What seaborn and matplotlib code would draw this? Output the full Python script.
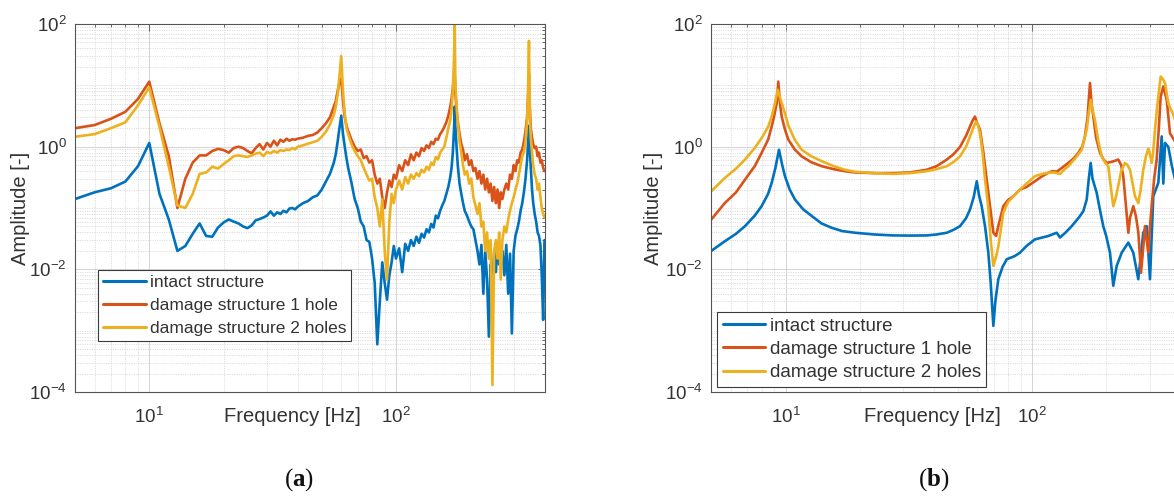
import numpy as np
import pandas as pd
import seaborn as sns
import matplotlib
matplotlib.use("Agg")
import matplotlib.pyplot as plt
from matplotlib.lines import Line2D
from matplotlib.ticker import FixedLocator, LogLocator, FuncFormatter, NullFormatter

# ---------------------------------------------------------------- data
SERIES = ["intact structure", "damage structure 1 hole", "damage structure 2 holes"]
COLORS = ["#0072BD", "#D95319", "#EDB120"]

# (a) measured FRF, 1 Hz resolution at the low end
freq_a = [5, 6, 7, 8, 9, 10, 11, 12, 13, 14,
          15, 16, 17, 18, 19, 20, 21, 22, 23, 24,
          25, 26, 27, 28, 29, 30, 31, 32, 33, 34,
          35, 36, 37, 38, 39, 40, 42, 44, 46, 48,
          50, 52, 54, 56, 57, 58, 59, 60, 61, 62,
          63, 64, 66, 68, 70, 72, 74, 76, 78, 80,
          82, 84, 86, 88, 90, 92, 94, 96, 98, 100,
          103, 106, 109, 112, 115, 118, 121, 124, 127, 130,
          133, 136, 139, 142, 145, 148, 151, 154, 157, 160,
          163, 166, 168, 170, 172, 173, 174, 176, 178, 181,
          184, 187, 190, 194, 198, 202, 206, 210, 214, 218,
          222, 226, 230, 234, 238, 242, 246, 250, 254, 258,
          262, 266, 270, 275, 280, 285, 290, 295, 300, 305,
          310, 315, 320, 325, 330, 335, 340, 343, 346, 349,
          352, 356, 360, 365, 370, 375, 380, 385, 390, 395,
          400]

intact_a = [0.14, 0.18, 0.21, 0.27, 0.48, 1.15, 0.17, 0.065, 0.02, 0.024,
            0.038, 0.056, 0.035, 0.034, 0.048, 0.058, 0.065, 0.06, 0.056, 0.05,
            0.047, 0.052, 0.063, 0.066, 0.07, 0.075, 0.088, 0.075, 0.085, 0.08,
            0.09, 0.085, 0.098, 0.1, 0.095, 0.105, 0.12, 0.13, 0.15, 0.16,
            0.2, 0.27, 0.36, 0.55, 0.75, 1.2, 2.0, 3.2, 1.6, 1.0,
            0.65, 0.45, 0.26, 0.14, 0.1, 0.06, 0.05, 0.03, 0.028, 0.015,
            0.006, 0.0006, 0.003, 0.013, 0.006, 0.0032, 0.008, 0.013, 0.024, 0.015,
            0.022, 0.009, 0.026, 0.02, 0.03, 0.024, 0.034, 0.027, 0.038, 0.033,
            0.045, 0.04, 0.055, 0.048, 0.075, 0.068, 0.09, 0.11, 0.13, 0.17,
            0.22, 0.32, 0.45, 0.8, 2.0, 4.5, 2.2, 1.0, 0.5, 0.25,
            0.17, 0.12, 0.09, 0.075, 0.06, 0.05, 0.045, 0.03, 0.02, 0.012,
            0.025, 0.004, 0.02, 0.007, 0.0008, 0.012, 0.005, 0.02, 0.009, 0.025,
            0.012, 0.015, 0.02, 0.008, 0.025, 0.004, 0.018, 0.0009, 0.02, 0.035,
            0.045, 0.06, 0.09, 0.12, 0.18, 0.3, 0.6, 1.1, 2.2, 0.9,
            0.45, 0.2, 0.12, 0.08, 0.06, 0.04, 0.035, 0.025, 0.008, 0.0015,
            0.03]

hole1_a = [2.0, 2.25, 2.85, 3.7, 6.0, 11.5, 2.4, 0.7, 0.1, 0.3,
           0.55, 0.72, 0.72, 0.85, 0.92, 0.88, 0.8, 0.95, 1.0, 0.95,
           0.85, 0.78, 0.95, 1.1, 0.9, 1.15, 1.0, 1.25, 1.05, 1.3,
           1.2, 1.35, 1.25, 1.32, 1.3, 1.35, 1.4, 1.5, 1.55, 1.7,
           2.0, 2.4, 3.0, 4.5, 5.5, 8.0, 11.0, 13.0, 5.5, 3.0,
           2.2, 1.8, 1.3, 1.0, 0.85, 0.9, 0.65, 0.7, 0.55, 0.6,
           0.35, 0.25, 0.3, 0.15, 0.1, 0.18, 0.28, 0.22, 0.35, 0.3,
           0.5, 0.4, 0.6, 0.5, 0.75, 0.6, 0.8, 0.7, 0.95, 0.85,
           1.05, 0.95, 1.2, 1.1, 1.35, 1.3, 1.6, 1.8, 2.1, 2.5,
           3.2, 4.5, 6.0, 9.0, 14.0, 16.0, 8.0, 4.0, 2.6, 1.6,
           1.1, 0.9, 0.6, 0.75, 0.5, 0.6, 0.4, 0.45, 0.3, 0.4,
           0.25, 0.35, 0.2, 0.3, 0.18, 0.25, 0.13, 0.22, 0.12, 0.2,
           0.1, 0.18, 0.14, 0.2, 0.25, 0.2, 0.35, 0.3, 0.5, 0.4,
           0.6, 0.55, 0.8, 0.9, 1.2, 1.8, 3.0, 6.0, 15.0, 4.0,
           2.0, 1.4, 1.1, 0.95, 1.0, 0.7, 0.8, 0.55, 0.6, 0.45,
           0.4]

holes2_a = [1.45, 1.6, 2.0, 2.5, 4.7, 9.3, 2.1, 0.47, 0.11, 0.1,
            0.17, 0.36, 0.38, 0.47, 0.44, 0.52, 0.6, 0.7, 0.72, 0.7,
            0.68, 0.72, 0.77, 0.8, 0.7, 0.82, 0.78, 0.85, 0.8, 0.88,
            0.85, 0.9, 0.88, 0.95, 0.9, 1.0, 1.05, 1.12, 1.18, 1.25,
            1.45, 1.75, 2.3, 3.3, 4.5, 7.0, 14.0, 30.0, 8.0, 3.5,
            2.0, 1.6, 1.1, 0.85, 0.7, 0.6, 0.45, 0.35, 0.28, 0.3,
            0.15, 0.1, 0.05, 0.14, 0.02, 0.0068, 0.06, 0.17, 0.12, 0.2,
            0.28, 0.2, 0.32, 0.25, 0.35, 0.3, 0.37, 0.33, 0.42, 0.38,
            0.47, 0.42, 0.55, 0.5, 0.68, 0.62, 0.8, 0.9, 1.0, 1.4,
            2.0, 2.7, 4.0, 8.0, 30.0, 100.0, 12.0, 5.0, 2.5, 1.2,
            0.8, 0.5, 0.35, 0.4, 0.25, 0.3, 0.15, 0.11, 0.08, 0.12,
            0.05, 0.06, 0.02, 0.04, 0.015, 0.03, 0.00013, 0.02, 0.03, 0.015,
            0.04, 0.0068, 0.03, 0.05, 0.04, 0.065, 0.09, 0.12, 0.15, 0.2,
            0.25, 0.35, 0.5, 0.7, 0.8, 1.2, 2.7, 8.0, 53.0, 3.0,
            1.4, 0.8, 0.5, 0.35, 0.3, 0.2, 0.25, 0.15, 0.1, 0.08,
            0.07]

# (b) model FRF
freq_b_intact = [5, 5.68, 6.3, 6.85, 7.5, 8.0, 8.5, 8.79, 9.1, 9.41,
                 9.7, 9.95, 10.4, 10.93, 11.8, 12.78, 14.0, 15.39, 17.0, 19.14,
                 23.0, 27.37, 32.0, 37.4, 41.0, 45.1, 48.0, 51.05, 54.0, 56.05,
                 58.0, 59.7, 61.0, 62.5, 64.5, 66.5, 68.0, 69.7, 71.0, 73.0,
                 76.0, 79.0, 85.0, 89.4, 95.0, 102.8, 116.5, 126.0, 129.9, 137.0,
                 144.9, 155.0, 161.5, 166.7, 170.0, 173.0, 176.0, 183.0, 188.0, 194.6,
                 200.0, 207.2, 213.7, 220.6, 231.2, 245.9, 257.6, 269.9, 282.8, 292.0,
                 301.1, 310.5, 325.4, 335.9, 341.0, 346.4, 357.3, 368.7, 380.0, 400.0]
intact_b = [0.02, 0.0288, 0.038, 0.0506, 0.075, 0.107, 0.17, 0.257, 0.45, 0.89,
            0.5, 0.33, 0.2, 0.137, 0.095, 0.074, 0.056, 0.0476, 0.042, 0.0395,
            0.037, 0.0357, 0.0355, 0.0357, 0.037, 0.0395, 0.044, 0.0506, 0.068, 0.0945,
            0.15, 0.273, 0.16, 0.107, 0.05, 0.0187, 0.006, 0.0012, 0.003, 0.0069,
            0.011, 0.0146, 0.0164, 0.0187, 0.024, 0.0308, 0.035, 0.0395, 0.033, 0.04,
            0.0506, 0.07, 0.0887, 0.137, 0.3, 0.543, 0.3, 0.177, 0.1, 0.0506,
            0.035, 0.0187, 0.0054, 0.0114, 0.0187, 0.0273, 0.0187, 0.0069, 0.0395, 0.0506,
            0.0069, 0.155, 0.257, 1.47, 0.25, 1.15, 0.99, 0.5, 0.3, 0.2]

freq_b_hole1 = [5, 5.68, 6.3, 6.85, 7.5, 8.0, 8.5, 8.79, 9.0, 9.21,
                9.35, 9.5, 9.65, 9.95, 10.27, 10.9, 11.63, 12.7, 14.03, 15.7,
                17.43, 19.14, 23.0, 27.37, 32.0, 37.4, 41.0, 45.1, 48.0, 51.05,
                54.0, 56.05, 57.5, 58.7, 59.7, 61.5, 63.5, 65.5, 67.5, 69.7,
                71.5, 73.0, 76.5, 80.0, 84.0, 89.4, 95.0, 102.8, 110.0, 116.5,
                121.0, 126.0, 133.0, 140.4, 148.0, 154.1, 160.0, 164.0, 168.0, 171.9,
                174.5, 177.3, 182.0, 188.8, 195.0, 200.9, 212.0, 223.9, 230.0, 234.6,
                240.0, 245.9, 250.0, 257.6, 264.0, 270.0, 276.8, 282.0, 287.3, 292.0,
                296.4, 301.0, 305.9, 313.0, 320.5, 327.0, 332.7, 341.0, 352.0, 362.9,
                376.7, 390.0, 400.0]
hole1_b = [0.065, 0.121, 0.18, 0.29, 0.48, 0.79, 1.3, 2.14, 3.2, 5.1,
           11.5, 5.0, 3.1, 1.9, 1.3, 0.9, 0.695, 0.56, 0.48, 0.43,
           0.398, 0.38, 0.37, 0.37, 0.38, 0.42, 0.48, 0.615, 0.75, 0.99,
           1.5, 2.14, 2.7, 3.1, 2.5, 1.9, 0.8, 0.29, 0.11, 0.0396,
           0.035, 0.0506, 0.107, 0.135, 0.155, 0.2, 0.22, 0.273, 0.33, 0.375,
           0.4, 0.39, 0.46, 0.543, 0.65, 0.79, 1.0, 1.47, 3.0, 10.9,
           5.0, 3.1, 1.4, 0.79, 0.62, 0.543, 0.57, 0.615, 0.5, 0.33,
           0.12, 0.0395, 0.07, 0.107, 0.074, 0.04, 0.0088, 0.02, 0.0506, 0.03,
           0.0187, 0.05, 0.107, 0.3, 0.615, 2.0, 6.6, 9.6, 5.8, 1.65,
           1.3, 1.0, 0.8]

freq_b_holes2 = [5, 5.68, 6.3, 6.85, 7.5, 8.0, 8.5, 8.79, 9.05, 9.3,
                 9.6, 9.95, 10.27, 10.9, 11.63, 12.7, 14.03, 15.7, 17.43, 19.14,
                 23.0, 27.37, 32.0, 37.4, 41.0, 45.1, 48.0, 51.05, 54.0, 56.05,
                 58.0, 59.3, 60.3, 61.5, 63.0, 64.5, 66.5, 68.0, 69.7, 71.5,
                 73.0, 76.5, 80.0, 84.0, 89.4, 95.0, 102.8, 110.0, 116.5, 122.0,
                 129.9, 135.0, 140.4, 150.0, 159.1, 166.7, 170.0, 173.0, 176.0, 180.1,
                 186.0, 191.8, 198.0, 203.9, 208.0, 213.7, 218.0, 223.9, 230.0, 238.4,
                 244.0, 249.8, 256.0, 261.7, 269.9, 276.0, 282.8, 290.0, 296.4, 301.0,
                 305.9, 310.0, 315.5, 322.0, 332.7, 340.0, 346.4, 357.3, 376.7, 390.0,
                 400.0]
holes2_b = [0.188, 0.31, 0.44, 0.615, 0.95, 1.38, 2.1, 3.1, 5.0, 8.45,
            5.5, 3.5, 2.2, 1.3, 0.89, 0.7, 0.58, 0.48, 0.42, 0.39,
            0.37, 0.36, 0.37, 0.398, 0.43, 0.48, 0.56, 0.695, 1.0, 1.47,
            2.1, 2.58, 2.3, 1.65, 0.8, 0.29, 0.1, 0.03, 0.0114, 0.016,
            0.0235, 0.0835, 0.125, 0.155, 0.2, 0.25, 0.33, 0.36, 0.375, 0.38,
            0.36, 0.42, 0.48, 0.65, 0.89, 1.9, 3.5, 5.8, 4.0, 2.7,
            1.2, 0.695, 0.55, 0.48, 0.25, 0.107, 0.14, 0.23, 0.4, 0.543,
            0.5, 0.42, 0.25, 0.155, 0.12, 0.2, 0.42, 0.7, 0.93, 0.75,
            0.543, 0.8, 1.9, 4.5, 13.9, 12.5, 10.9, 5.1, 3.1, 2.0,
            1.6]

TICK_LABELS_X = [10, 100]
TICK_LABELS_Y = [1e-4, 1e-2, 1e0, 1e2]


def long_frame(pairs):
    parts = []
    for name, (f, a) in zip(SERIES, pairs):
        parts.append(pd.DataFrame({"Frequency": f, "Amplitude": a, "Series": name}))
    return pd.concat(parts, ignore_index=True)


df_a = long_frame([(freq_a, intact_a), (freq_a, hole1_a), (freq_a, holes2_a)])
df_b = long_frame([(freq_b_intact, intact_b), (freq_b_hole1, hole1_b),
                   (freq_b_holes2, holes2_b)])

# ---------------------------------------------------------------- style
sns.set_style("white")
plt.rcParams["font.family"] = ["Liberation Sans", "DejaVu Sans"]
plt.rcParams["mathtext.fontset"] = "custom"
plt.rcParams["mathtext.rm"] = "Liberation Sans"
plt.rcParams["mathtext.bf"] = "Liberation Serif:bold"

TEXT = "#333333"
FRAME = "#555555"

W, H = 1174, 496
fig = plt.figure(figsize=(W / 100, H / 100), dpi=100)
fig.patch.set_facecolor("white")


def px_axes(left, right, top, bottom):
    return fig.add_axes([left / W, 1 - bottom / H, (right - left) / W, (bottom - top) / H])


def pow_fmt(v, pos):
    return r"$\mathdefault{10^{%d}}$" % int(round(np.log10(v)))


def style_axes(ax):
    ax.set_xscale("log")
    ax.set_yscale("log")
    ax.set_xlim(5, 400)
    ax.set_ylim(1e-4, 1e2)
    ax.xaxis.set_major_locator(FixedLocator(TICK_LABELS_X))
    ax.xaxis.set_minor_locator(LogLocator(base=10, subs=np.arange(1, 10), numticks=100))
    ax.yaxis.set_major_locator(FixedLocator(TICK_LABELS_Y))
    ax.yaxis.set_minor_locator(LogLocator(base=10, subs=np.arange(1, 10), numticks=100))
    ax.xaxis.set_major_formatter(FuncFormatter(pow_fmt))
    ax.yaxis.set_major_formatter(FuncFormatter(pow_fmt))
    ax.xaxis.set_minor_formatter(NullFormatter())
    ax.yaxis.set_minor_formatter(NullFormatter())
    ax.set_axisbelow(True)
    ax.grid(which="major", color="#cdcdcd", lw=0.6, ls="-")
    ax.grid(which="minor", color="#d2d2d2", lw=0.6, ls=(0, (1.2, 1.6)))
    ax.tick_params(which="both", direction="in", top=True, right=True,
                   color=FRAME, width=0.6, labelcolor=TEXT, labelsize=13.6)
    ax.tick_params(which="major", length=5)
    ax.tick_params(which="minor", length=2.5)
    ax.tick_params(axis="x", which="major", pad=11)
    ax.tick_params(axis="y", which="major", pad=6)
    for s in ax.spines.values():
        s.set_color(FRAME)
        s.set_linewidth(0.8)


def draw_panel(ax, df, legend_xy, legend_size, handlelength, spacing,
               xlabel_x, ylabel_x):
    style_axes(ax)
    sns.lineplot(data=df, x="Frequency", y="Amplitude", hue="Series",
                 hue_order=SERIES, palette=COLORS, estimator=None, sort=False,
                 linewidth=1.9, legend=False, ax=ax)
    ax.set_xlim(5, 400)
    ax.set_ylim(1e-4, 1e2)
    ax.set_xlabel("Frequency [Hz]", fontsize=14.5, color=TEXT)
    ax.xaxis.label.set_va("center")
    ax.xaxis.set_label_coords(xlabel_x, -0.066)
    ax.set_ylabel("Amplitude [-]", fontsize=14.5, color=TEXT)
    ax.yaxis.label.set_va("center")
    ax.yaxis.set_label_coords(ylabel_x, 0.5)
    handles = [Line2D([], [], color=c, lw=2.2) for c in COLORS]
    leg = ax.legend(handles, SERIES, loc="upper left", bbox_to_anchor=legend_xy,
                    bbox_transform=ax.transAxes, borderaxespad=0,
                    fontsize=legend_size, handlelength=handlelength,
                    handletextpad=0.22, labelspacing=spacing, borderpad=0.3,
                    frameon=True, fancybox=False, framealpha=1)
    leg.get_frame().set_edgecolor("#3a3a3a")
    leg.get_frame().set_linewidth(0.8)
    for t in leg.get_texts():
        t.set_color(TEXT)


# panel (a)
ax_a = px_axes(75, 544.5, 24, 392)
draw_panel(ax_a, df_a, (0.0483, 0.3315), 12.5, 2.47, 0.43, 0.463, -0.117)

# panel (b): the frame runs past the right edge of the figure
ax_b = px_axes(711.3, 1180.4, 24, 392)
draw_panel(ax_b, df_b, (0.0122, 0.2174), 13.5, 2.28, 0.33, 0.472, -0.124)

for label, xc in (("a", 299), ("b", 934)):
    fig.text(xc / W, 1 - 480 / H, r"$\mathdefault{(}\mathbf{%s}\mathdefault{)}$" % label,
             family="Liberation Serif", fontsize=18, color="#111111",
             ha="center", va="center")

fig.savefig("out.png", dpi=100, facecolor="white")
